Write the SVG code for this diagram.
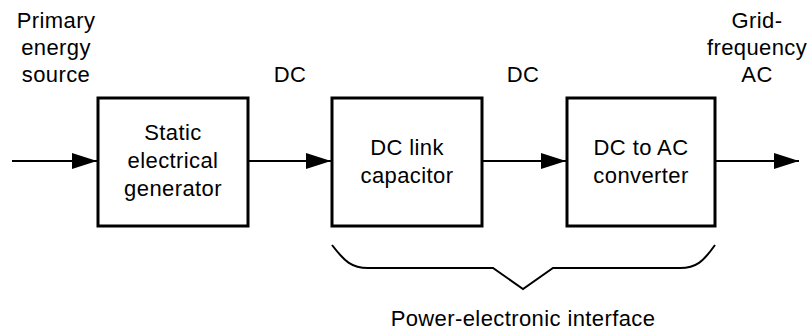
<svg xmlns="http://www.w3.org/2000/svg" width="810" height="332" viewBox="0 0 810 332">
<style>
text{font-family:"Liberation Sans",Arial,sans-serif;font-size:22px;letter-spacing:0.4px;fill:#000;text-anchor:middle}
.box{fill:#fff;stroke:#000;stroke-width:3}
.line{stroke:#000;stroke-width:2;fill:none}
</style>
<defs>
<marker id="ah" markerUnits="userSpaceOnUse" markerWidth="25" markerHeight="18" refX="25" refY="9" orient="auto">
<path d="M0,1 L25,9 L0,17 Z" fill="#000"/>
</marker>
</defs>
<rect width="810" height="332" fill="#fff"/>
<g id="connectors">
<line class="line" x1="12" y1="161" x2="97" y2="161" marker-end="url(#ah)"/>
<line class="line" x1="248" y1="161" x2="331" y2="161" marker-end="url(#ah)"/>
<line class="line" x1="482" y1="161" x2="566" y2="161" marker-end="url(#ah)"/>
<line class="line" x1="715" y1="161" x2="799" y2="161" marker-end="url(#ah)"/>
</g>
<g id="generator">
<rect class="box" x="98" y="98" width="150" height="128"/>
<text x="173" y="140">Static</text>
<text x="173" y="168">electrical</text>
<text x="173" y="196">generator</text>
</g>
<g id="capacitor">
<rect class="box" x="332" y="98" width="150" height="128"/>
<text x="407" y="155">DC link</text>
<text x="407" y="183">capacitor</text>
</g>
<g id="converter">
<rect class="box" x="567" y="98" width="148" height="128"/>
<text x="641" y="155">DC to AC</text>
<text x="641" y="183">converter</text>
</g>
<g id="labels">
<text x="56" y="28">Primary</text>
<text x="56" y="55">energy</text>
<text x="56" y="82">source</text>
<text x="290" y="82">DC</text>
<text x="523" y="82">DC</text>
<text x="757" y="28">Grid-</text>
<text x="757" y="55">frequency</text>
<text x="757" y="82">AC</text>
</g>
<g id="brace">
<path class="line" d="M332,245 C345,262 352,268 368,268 L493,268 L523,289 L553,268 L680,268 C696,268 703,262 715,245"/>
<text x="523" y="326">Power-electronic interface</text>
</g>
</svg>
